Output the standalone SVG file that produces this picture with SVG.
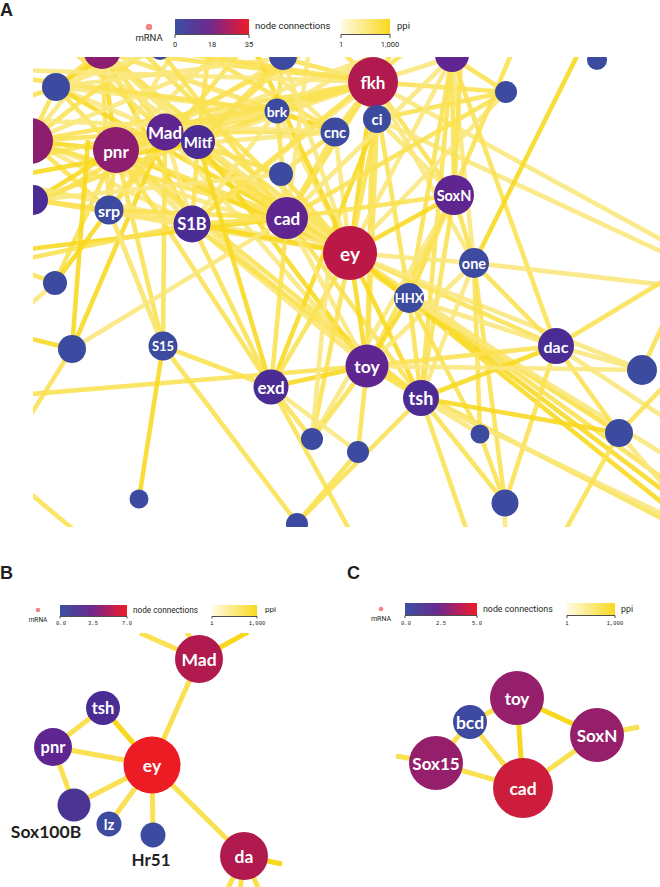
<svg xmlns="http://www.w3.org/2000/svg" width="660" height="887" viewBox="0 0 660 887">
  <defs>
    <linearGradient id="gNode" x1="0" y1="0" x2="1" y2="0">
      <stop offset="0" stop-color="#3a50a3"/>
      <stop offset="0.45" stop-color="#6a2b8f"/>
      <stop offset="0.75" stop-color="#b51f5c"/>
      <stop offset="1" stop-color="#ee1c25"/>
    </linearGradient>
    <linearGradient id="gPpi" x1="0" y1="0" x2="1" y2="0">
      <stop offset="0" stop-color="#fffbe3"/>
      <stop offset="1" stop-color="#f8d91c"/>
    </linearGradient>
    <clipPath id="clipA"><rect x="33" y="57" width="627" height="470"/></clipPath>
    <clipPath id="clipB"><rect x="0" y="633" width="330" height="254"/></clipPath>
    <clipPath id="clipC"><rect x="360" y="640" width="300" height="200"/></clipPath>
  </defs>
  <style>
    .lbl { font-family: "Lato", "Open Sans", sans-serif; font-weight: 700; fill: #ffffff; text-anchor: middle; dominant-baseline: central; }
    .blk { font-family: "Lato", "Open Sans", sans-serif; font-weight: 700; fill: #231f20; text-anchor: middle; }
    .leg { font-family: "Roboto", "Liberation Sans", sans-serif; fill: #231f20; }
    .tick { font-family: "Liberation Mono", monospace; fill: #231f20; text-anchor: middle; }
    .panel { font-family: "Liberation Sans", sans-serif; font-weight: 700; fill: #231f20; }
    .ax { stroke: #231f20; stroke-width: 0.8; fill: none; }
    #edgesA line { stroke-width: 4.6; stroke-linecap: butt; stroke-opacity: 0.88; }
    #edgesA line, #edgesB line, #edgesC line { stroke: #fae152; }
    #edgesA line.g, #edgesB line.g, #edgesC line.g { stroke: #f8d81f; }
    #edgesA line.p { stroke: #fbe77c; }
    #edgesB line, #edgesC line { stroke-width: 5; }
    .blue { fill: #3c4ba0; }
    .pur1 { fill: #5f2591; }
    .pur2 { fill: #4b2c95; }
    .mag { fill: #8d1e6f; }
    .crim { fill: #bb1847; }
    .red { fill: #ec1c24; }
    .rose { fill: #b01a4e; }
    .plum { fill: #961f6b; }
    .cred { fill: #cc1e3c; }
  </style>

  <!-- ===== Panel A ===== -->
  <text class="panel" x="0" y="16" font-size="18">A</text>
  <g id="legendA">
    <circle cx="149" cy="27" r="3.2" fill="#f08585"/>
    <text class="leg" x="149" y="41" font-size="9.5" text-anchor="middle">mRNA</text>
    <rect x="175" y="19" width="74" height="15" fill="url(#gNode)"/>
    <path class="ax" d="M175,38 V34.5 H249 V38"/>
    <text class="leg" x="175" y="47" font-size="7.5" text-anchor="middle">0</text>
    <text class="leg" x="212" y="47" font-size="7.5" text-anchor="middle">18</text>
    <text class="leg" x="249" y="47" font-size="7.5" text-anchor="middle">35</text>
    <text class="leg" x="255" y="29" font-size="9.5">node connections</text>
    <rect x="341" y="19" width="49" height="15" fill="url(#gPpi)"/>
    <path class="ax" d="M341,38 V34.5 H390 V38"/>
    <text class="leg" x="341" y="47" font-size="7.5" text-anchor="middle">1</text>
    <text class="leg" x="390" y="47" font-size="7.5" text-anchor="middle">1,000</text>
    <text class="leg" x="397" y="29" font-size="9.5">ppi</text>
  </g>

  <g clip-path="url(#clipA)">
    <g id="edgesA">
      <!-- dense core, upper left -->
      <line x1="102" y1="50" x2="56" y2="87"/>
      <line x1="102" y1="50" x2="116" y2="150" class="g"/>
      <line x1="102" y1="50" x2="165" y2="132"/>
      <line x1="102" y1="50" x2="198" y2="142" class="p"/>
      <line x1="102" y1="50" x2="277" y2="111"/>
      <line x1="102" y1="50" x2="287" y2="218" class="p"/>
      <line x1="102" y1="50" x2="350" y2="253"/>
      <line x1="102" y1="50" x2="192" y2="224" class="g"/>
      <line x1="102" y1="50" x2="109" y2="210"/>
      <line x1="102" y1="50" x2="30" y2="141" class="p"/>
      <line x1="102" y1="50" x2="373" y2="82"/>
      <line x1="102" y1="50" x2="335" y2="132" class="p"/>
      <line x1="56" y1="87" x2="116" y2="150"/>
      <line x1="56" y1="87" x2="165" y2="132" class="p"/>
      <line x1="56" y1="87" x2="30" y2="141"/>
      <line x1="56" y1="87" x2="277" y2="111" class="p"/>
      <line x1="20" y1="100" x2="56" y2="87"/>
      <line x1="56" y1="87" x2="350" y2="253" class="g"/>
      <line x1="30" y1="141" x2="116" y2="150" class="g"/>
      <line x1="30" y1="141" x2="165" y2="132"/>
      <line x1="30" y1="141" x2="109" y2="210"/>
      <line x1="30" y1="141" x2="350" y2="253" class="p"/>
      <line x1="30" y1="141" x2="287" y2="218"/>
      <line x1="30" y1="141" x2="192" y2="224" class="p"/>
      <line x1="30" y1="141" x2="373" y2="82"/>
      <line x1="30" y1="141" x2="160" y2="40"/>
      <line x1="116" y1="150" x2="165" y2="132"/>
      <line x1="116" y1="150" x2="198" y2="142" class="p"/>
      <line x1="116" y1="150" x2="277" y2="111"/>
      <line x1="116" y1="150" x2="335" y2="132" class="p"/>
      <line x1="116" y1="150" x2="373" y2="82"/>
      <line x1="116" y1="150" x2="350" y2="253" class="g"/>
      <line x1="116" y1="150" x2="287" y2="218"/>
      <line x1="116" y1="150" x2="192" y2="224" class="p"/>
      <line x1="116" y1="150" x2="109" y2="210"/>
      <line x1="116" y1="150" x2="35" y2="200" class="g"/>
      <line x1="116" y1="150" x2="55" y2="283"/>
      <line x1="116" y1="150" x2="271" y2="387"/>
      <line x1="116" y1="150" x2="163" y2="346"/>
      <line x1="116" y1="150" x2="367" y2="366" class="p"/>
      <line x1="116" y1="150" x2="421" y2="398"/>
      <line x1="116" y1="150" x2="230" y2="40" class="p"/>
      <line x1="165" y1="132" x2="198" y2="142"/>
      <line x1="165" y1="132" x2="277" y2="111" class="p"/>
      <line x1="165" y1="132" x2="373" y2="82"/>
      <line x1="165" y1="132" x2="350" y2="253" class="g"/>
      <line x1="165" y1="132" x2="287" y2="218"/>
      <line x1="165" y1="132" x2="192" y2="224" class="p"/>
      <line x1="165" y1="132" x2="109" y2="210"/>
      <line x1="165" y1="132" x2="163" y2="346"/>
      <line x1="165" y1="132" x2="367" y2="366" class="p"/>
      <line x1="165" y1="132" x2="335" y2="132"/>
      <line x1="165" y1="132" x2="283" y2="58" class="p"/>
      <line x1="165" y1="132" x2="72" y2="349" class="g"/>
      <line x1="198" y1="142" x2="350" y2="253"/>
      <line x1="198" y1="142" x2="373" y2="82" class="p"/>
      <line x1="198" y1="142" x2="287" y2="218"/>
      <line x1="198" y1="142" x2="192" y2="224"/>
      <line x1="198" y1="142" x2="367" y2="366" class="g"/>
      <line x1="198" y1="142" x2="277" y2="111" class="p"/>
      <line x1="198" y1="142" x2="210" y2="40"/>
      <line x1="277" y1="111" x2="373" y2="82"/>
      <line x1="277" y1="111" x2="350" y2="253" class="p"/>
      <line x1="277" y1="111" x2="287" y2="218"/>
      <line x1="277" y1="111" x2="335" y2="132" class="g"/>
      <line x1="277" y1="111" x2="283" y2="58"/>
      <line x1="277" y1="111" x2="192" y2="224" class="p"/>
      <line x1="277" y1="111" x2="35" y2="200"/>
      <line x1="335" y1="132" x2="373" y2="82"/>
      <line x1="335" y1="132" x2="350" y2="253" class="p"/>
      <line x1="335" y1="132" x2="287" y2="218"/>
      <line x1="335" y1="132" x2="281" y2="174"/>
      <line x1="335" y1="132" x2="240" y2="40" class="p"/>
      <line x1="373" y1="82" x2="350" y2="253" class="g"/>
      <line x1="373" y1="82" x2="377" y2="119"/>
      <line x1="373" y1="82" x2="287" y2="218" class="p"/>
      <line x1="373" y1="82" x2="454" y2="195"/>
      <line x1="373" y1="82" x2="367" y2="366"/>
      <line x1="373" y1="82" x2="192" y2="224" class="p"/>
      <line x1="373" y1="82" x2="283" y2="58"/>
      <line x1="373" y1="82" x2="452" y2="57" class="p"/>
      <line x1="373" y1="82" x2="506" y2="92"/>
      <line x1="373" y1="82" x2="474" y2="263" class="p"/>
      <line x1="373" y1="82" x2="409" y2="298"/>
      <line x1="373" y1="82" x2="662" y2="240" class="p"/>
      <line x1="373" y1="82" x2="330" y2="40"/>
      <line x1="377" y1="119" x2="350" y2="253"/>
      <line x1="377" y1="119" x2="454" y2="195" class="p"/>
      <line x1="377" y1="119" x2="367" y2="366"/>
      <line x1="377" y1="119" x2="662" y2="252" class="p"/>
      <line x1="377" y1="119" x2="506" y2="92"/>
      <line x1="377" y1="119" x2="271" y2="387" class="g"/>
      <!-- extra strands entering from the top and left edges -->
      <line x1="60" y1="40" x2="165" y2="132"/>
      <line x1="60" y1="40" x2="350" y2="253" class="p"/>
      <line x1="130" y1="40" x2="350" y2="253"/>
      <line x1="130" y1="40" x2="56" y2="87" class="g"/>
      <line x1="180" y1="40" x2="335" y2="132"/>
      <line x1="180" y1="40" x2="116" y2="150" class="p"/>
      <line x1="250" y1="40" x2="350" y2="253" class="g"/>
      <line x1="250" y1="40" x2="109" y2="210"/>
      <line x1="270" y1="40" x2="30" y2="141" class="p"/>
      <line x1="310" y1="40" x2="198" y2="142"/>
      <line x1="310" y1="40" x2="287" y2="218" class="p"/>
      <line x1="330" y1="40" x2="116" y2="150"/>
      <line x1="400" y1="40" x2="287" y2="218"/>
      <line x1="400" y1="40" x2="277" y2="111" class="p"/>
      <line x1="420" y1="40" x2="192" y2="224"/>
      <line x1="420" y1="40" x2="165" y2="132" class="p"/>
      <line x1="20" y1="70" x2="373" y2="82" class="p"/>
      <line x1="20" y1="78" x2="277" y2="111"/>
      <line x1="20" y1="120" x2="335" y2="132" class="p"/>
      <line x1="20" y1="160" x2="373" y2="82"/>
      <line x1="20" y1="175" x2="198" y2="142" class="g"/>
      <line x1="20" y1="185" x2="350" y2="253" class="p"/>
      <line x1="20" y1="215" x2="165" y2="132"/>
      <line x1="283" y1="58" x2="350" y2="253" class="p"/>
      <line x1="283" y1="58" x2="198" y2="142"/>
      <line x1="283" y1="58" x2="56" y2="87" class="p"/>
      <line x1="160" y1="50" x2="287" y2="218"/>
      <line x1="160" y1="50" x2="56" y2="87" class="p"/>
      <line x1="160" y1="50" x2="373" y2="82"/>
      <line x1="452" y1="57" x2="454" y2="195"/>
      <line x1="452" y1="57" x2="350" y2="253" class="p"/>
      <line x1="452" y1="57" x2="556" y2="346"/>
      <line x1="452" y1="57" x2="474" y2="263" class="p"/>
      <line x1="452" y1="57" x2="506" y2="92"/>
      <line x1="452" y1="57" x2="421" y2="398"/>
      <line x1="452" y1="57" x2="287" y2="218" class="p"/>
      <line x1="452" y1="57" x2="409" y2="298"/>
      <line x1="506" y1="92" x2="350" y2="253" class="p"/>
      <line x1="506" y1="92" x2="287" y2="218"/>
      <line x1="281" y1="174" x2="350" y2="253"/>
      <line x1="281" y1="174" x2="287" y2="218" class="p"/>
      <line x1="281" y1="174" x2="165" y2="132"/>
      <line x1="281" y1="174" x2="35" y2="200" class="p"/>
      <line x1="35" y1="200" x2="109" y2="210"/>
      <line x1="35" y1="200" x2="350" y2="253" class="p"/>
      <line x1="35" y1="200" x2="192" y2="224"/>
      <line x1="20" y1="232" x2="35" y2="200"/>
      <line x1="20" y1="250" x2="287" y2="218" class="g"/>
      <line x1="20" y1="260" x2="192" y2="224"/>
      <line x1="109" y1="210" x2="192" y2="224"/>
      <line x1="109" y1="210" x2="350" y2="253" class="p"/>
      <line x1="109" y1="210" x2="287" y2="218"/>
      <line x1="109" y1="210" x2="55" y2="283" class="g"/>
      <line x1="109" y1="210" x2="163" y2="346"/>
      <line x1="192" y1="224" x2="287" y2="218"/>
      <line x1="192" y1="224" x2="350" y2="253" class="g"/>
      <line x1="192" y1="224" x2="367" y2="366" class="p"/>
      <line x1="192" y1="224" x2="271" y2="387"/>
      <line x1="192" y1="224" x2="421" y2="398"/>
      <line x1="287" y1="218" x2="350" y2="253"/>
      <line x1="287" y1="218" x2="367" y2="366" class="p"/>
      <line x1="287" y1="218" x2="271" y2="387"/>
      <line x1="287" y1="218" x2="72" y2="349" class="p"/>
      <line x1="287" y1="218" x2="454" y2="195"/>
      <line x1="287" y1="218" x2="409" y2="298" class="p"/>
      <line x1="287" y1="218" x2="421" y2="398"/>
      <line x1="454" y1="195" x2="350" y2="253" class="g"/>
      <line x1="454" y1="195" x2="474" y2="263"/>
      <line x1="454" y1="195" x2="367" y2="366"/>
      <line x1="454" y1="195" x2="409" y2="298" class="p"/>
      <line x1="454" y1="195" x2="421" y2="398"/>
      <line x1="454" y1="195" x2="462" y2="40"/>
      <line x1="454" y1="195" x2="312" y2="439" class="p"/>
      <!-- ey hub and lower middle -->
      <line x1="350" y1="253" x2="367" y2="366" class="g"/>
      <line x1="350" y1="253" x2="409" y2="298"/>
      <line x1="350" y1="253" x2="421" y2="398" class="g"/>
      <line x1="350" y1="253" x2="271" y2="387"/>
      <line x1="350" y1="253" x2="474" y2="263" class="p"/>
      <line x1="350" y1="253" x2="556" y2="346"/>
      <line x1="350" y1="253" x2="312" y2="439"/>
      <line x1="350" y1="253" x2="619" y2="433" class="p"/>
      <line x1="350" y1="253" x2="665" y2="480"/>
      <line x1="350" y1="253" x2="665" y2="505" class="g"/>
      <line x1="350" y1="253" x2="642" y2="370" class="p"/>
      <line x1="474" y1="263" x2="556" y2="346"/>
      <line x1="474" y1="263" x2="421" y2="398" class="p"/>
      <line x1="474" y1="263" x2="505" y2="503"/>
      <line x1="474" y1="263" x2="580" y2="50" class="g"/>
      <line x1="474" y1="263" x2="665" y2="285" class="p"/>
      <line x1="474" y1="263" x2="480" y2="434"/>
      <line x1="474" y1="263" x2="367" y2="366" class="p"/>
      <line x1="409" y1="298" x2="367" y2="366" class="g"/>
      <line x1="409" y1="298" x2="421" y2="398"/>
      <line x1="409" y1="298" x2="556" y2="346" class="p"/>
      <line x1="409" y1="298" x2="480" y2="434"/>
      <line x1="409" y1="298" x2="515" y2="45"/>
      <line x1="409" y1="298" x2="665" y2="492" class="g"/>
      <line x1="409" y1="298" x2="619" y2="433"/>
      <line x1="409" y1="298" x2="665" y2="455" class="p"/>
      <line x1="556" y1="346" x2="367" y2="366"/>
      <line x1="556" y1="346" x2="642" y2="370" class="p"/>
      <line x1="556" y1="346" x2="665" y2="280"/>
      <line x1="556" y1="346" x2="505" y2="503"/>
      <line x1="556" y1="346" x2="421" y2="398" class="g"/>
      <line x1="556" y1="346" x2="619" y2="433"/>
      <line x1="556" y1="346" x2="665" y2="418" class="p"/>
      <line x1="367" y1="366" x2="421" y2="398"/>
      <line x1="367" y1="366" x2="358" y2="452"/>
      <line x1="367" y1="366" x2="642" y2="370" class="p"/>
      <line x1="367" y1="366" x2="20" y2="395"/>
      <line x1="367" y1="366" x2="271" y2="387" class="g"/>
      <line x1="367" y1="366" x2="312" y2="439"/>
      <line x1="367" y1="366" x2="665" y2="520"/>
      <line x1="421" y1="398" x2="480" y2="434" class="p"/>
      <line x1="421" y1="398" x2="505" y2="503"/>
      <line x1="421" y1="398" x2="619" y2="433" class="g"/>
      <line x1="421" y1="398" x2="470" y2="540"/>
      <line x1="421" y1="398" x2="665" y2="515" class="p"/>
      <line x1="421" y1="398" x2="297" y2="523"/>
      <line x1="619" y1="433" x2="665" y2="385"/>
      <line x1="619" y1="433" x2="665" y2="487" class="p"/>
      <line x1="642" y1="370" x2="665" y2="320"/>
      <line x1="619" y1="433" x2="560" y2="540"/>
      <line x1="480" y1="434" x2="505" y2="503"/>
      <line x1="505" y1="503" x2="505" y2="540" class="p"/>
      <!-- lower left -->
      <line x1="55" y1="283" x2="20" y2="270"/>
      <line x1="55" y1="283" x2="20" y2="313" class="p"/>
      <line x1="72" y1="349" x2="20" y2="336" class="g"/>
      <line x1="72" y1="349" x2="20" y2="432"/>
      <line x1="72" y1="349" x2="88" y2="140" class="g"/>
      <line x1="163" y1="346" x2="139" y2="499" class="g"/>
      <line x1="163" y1="346" x2="271" y2="387"/>
      <line x1="163" y1="346" x2="297" y2="523"/>
      <line x1="163" y1="346" x2="109" y2="210" class="p"/>
      <line x1="271" y1="387" x2="312" y2="439"/>
      <line x1="271" y1="387" x2="358" y2="452" class="p"/>
      <line x1="271" y1="387" x2="355" y2="540"/>
      <line x1="271" y1="387" x2="198" y2="142" class="g"/>
      <line x1="358" y1="452" x2="297" y2="523"/>
      <line x1="20" y1="485" x2="80" y2="535"/>
      <line x1="312" y1="439" x2="330" y2="250" class="p"/>
    </g>
    <g id="nodesA">
      <g id="a-top1"><circle class="mag" cx="102" cy="50" r="19"/></g>
      <g id="a-top2"><circle class="blue" cx="160" cy="50" r="10"/></g>
      <g id="a-top3"><circle class="blue" cx="283" cy="56" r="14"/></g>
      <g id="a-top4"><circle class="pur1" cx="452" cy="55" r="17"/></g>
      <g id="a-top5"><circle class="blue" cx="597" cy="60" r="10"/></g>
      <g id="a-n1"><circle class="blue" cx="56" cy="87" r="14"/></g>
      <g id="a-n2"><circle class="mag" cx="30" cy="141" r="23"/></g>
      <g id="a-n3"><circle class="pur2" cx="33" cy="200" r="15"/></g>
      <g id="a-pnr"><circle class="mag" cx="116" cy="150" r="23"/><text class="lbl" x="116" y="151" font-size="17">pnr</text></g>
      <g id="a-Mad"><circle class="pur1" cx="165" cy="132" r="18.5"/><text class="lbl" x="165" y="132" font-size="17">Mad</text></g>
      <g id="a-Mitf"><circle class="pur2" cx="198" cy="142" r="17"/><text class="lbl" x="198" y="142" font-size="15">Mitf</text></g>
      <g id="a-brk"><circle class="blue" cx="277" cy="111" r="12.5"/><text class="lbl" x="277" y="111" font-size="14">brk</text></g>
      <g id="a-cnc"><circle class="blue" cx="335" cy="132" r="14.5"/><text class="lbl" x="335" y="132" font-size="14.5">cnc</text></g>
      <g id="a-fkh"><circle class="rose" cx="373" cy="82" r="25"/><text class="lbl" x="373" y="82" font-size="17">fkh</text></g>
      <g id="a-ci"><circle class="blue" cx="377" cy="119" r="14"/><text class="lbl" x="377" y="119" font-size="15">ci</text></g>
      <g id="a-n4"><circle class="blue" cx="506" cy="92" r="11"/></g>
      <g id="a-n5"><circle class="blue" cx="281" cy="174" r="12"/></g>
      <g id="a-srp"><circle class="blue" cx="109" cy="210" r="14.5"/><text class="lbl" x="109" y="210" font-size="16">srp</text></g>
      <g id="a-S1B"><circle class="pur2" cx="192" cy="224" r="18.5"/><text class="lbl" x="192" y="224" font-size="16.5">S1B</text></g>
      <g id="a-cad"><circle class="pur1" cx="287" cy="218" r="21"/><text class="lbl" x="287" y="218" font-size="17">cad</text></g>
      <g id="a-SoxN"><circle class="pur1" cx="454" cy="195" r="20"/><text class="lbl" x="454" y="195" font-size="14.5">SoxN</text></g>
      <g id="a-ey"><circle class="crim" cx="350" cy="253" r="27"/><text class="lbl" x="350" y="253" font-size="19">ey</text></g>
      <g id="a-one"><circle class="blue" cx="474" cy="263" r="15"/><text class="lbl" x="474" y="263" font-size="14.5">one</text></g>
      <g id="a-HHX"><circle class="blue" cx="409" cy="298" r="15"/><text class="lbl" x="409" y="298" font-size="13">HHX</text></g>
      <g id="a-n6"><circle class="blue" cx="55" cy="283" r="12"/></g>
      <g id="a-n7"><circle class="blue" cx="72" cy="349" r="14"/></g>
      <g id="a-S15"><circle class="blue" cx="163" cy="346" r="14.5"/><text class="lbl" x="163" y="346" font-size="13">S15</text></g>
      <g id="a-toy"><circle class="pur1" cx="367" cy="366" r="21.5"/><text class="lbl" x="367" y="366" font-size="17.5">toy</text></g>
      <g id="a-dac"><circle class="pur2" cx="556" cy="346" r="18"/><text class="lbl" x="556" y="346" font-size="16">dac</text></g>
      <g id="a-n8"><circle class="blue" cx="642" cy="370" r="15"/></g>
      <g id="a-exd"><circle class="pur2" cx="271" cy="387" r="17.5"/><text class="lbl" x="271" y="387" font-size="17">exd</text></g>
      <g id="a-tsh"><circle class="pur2" cx="421" cy="398" r="18"/><text class="lbl" x="421" y="398" font-size="18">tsh</text></g>
      <g id="a-n9"><circle class="blue" cx="312" cy="439" r="11"/></g>
      <g id="a-n10"><circle class="blue" cx="480" cy="434" r="9.5"/></g>
      <g id="a-n11"><circle class="blue" cx="619" cy="433" r="14"/></g>
      <g id="a-n12"><circle class="blue" cx="358" cy="452" r="11"/></g>
      <g id="a-n13"><circle class="blue" cx="505" cy="503" r="13.5"/></g>
      <g id="a-n14"><circle class="blue" cx="139" cy="499" r="9.5"/></g>
      <g id="a-n15"><circle class="blue" cx="297" cy="524" r="11"/></g>
    </g>
  </g>

  <!-- ===== Panel B ===== -->
  <text class="panel" x="0" y="579" font-size="18">B</text>
  <g id="legendB">
    <circle cx="38" cy="610" r="2.3" fill="#f08585"/>
    <text class="leg" x="38" y="622" font-size="6.5" text-anchor="middle">mRNA</text>
    <rect x="60" y="605" width="67" height="11" fill="url(#gNode)"/>
    <path class="ax" d="M60,618.5 V616.5 H127 V618.5"/>
    <text class="tick" x="61" y="625" font-size="5.5">0.0</text>
    <text class="tick" x="93" y="625" font-size="5.5">3.5</text>
    <text class="tick" x="127" y="625" font-size="5.5">7.0</text>
    <text class="leg" x="133" y="613" font-size="8.2">node connections</text>
    <rect x="212" y="605" width="45" height="11" fill="url(#gPpi)"/>
    <path class="ax" d="M212,618.5 V616.5 H257 V618.5"/>
    <text class="tick" x="212" y="625" font-size="5.5">1</text>
    <text class="tick" x="257" y="625" font-size="5.5">1,000</text>
    <text class="leg" x="265" y="612" font-size="8">ppi</text>
  </g>
  <g clip-path="url(#clipB)">
    <g id="edgesB">
      <line x1="140" y1="633" x2="199" y2="659"/>
      <line x1="248" y1="632" x2="199" y2="659" class="g"/>
      <line x1="187" y1="632" x2="194" y2="645"/>
      <line x1="199" y1="659" x2="152" y2="765"/>
      <line x1="103" y1="708" x2="53" y2="747"/>
      <line x1="103" y1="708" x2="152" y2="765" class="g"/>
      <line x1="53" y1="747" x2="152" y2="765"/>
      <line x1="53" y1="747" x2="74" y2="805"/>
      <line x1="74" y1="805" x2="152" y2="765"/>
      <line x1="109" y1="824" x2="152" y2="765"/>
      <line x1="153" y1="835" x2="152" y2="765"/>
      <line x1="152" y1="765" x2="244" y2="856"/>
      <line x1="244" y1="856" x2="282" y2="864" class="g"/>
      <line x1="244" y1="856" x2="226" y2="892"/>
      <line x1="244" y1="856" x2="240" y2="892"/>
      <line x1="244" y1="856" x2="260" y2="892"/>
    </g>
  </g>
  <g id="nodesB">
    <g id="b-Mad"><circle class="rose" cx="199" cy="659" r="24"/><text class="lbl" x="199" y="659" font-size="17.5">Mad</text></g>
    <g id="b-tsh"><circle class="pur2" cx="103" cy="708" r="17"/><text class="lbl" x="103" y="708" font-size="16.5">tsh</text></g>
    <g id="b-pnr"><circle class="pur1" cx="53" cy="747" r="19"/><text class="lbl" x="53" y="747" font-size="16.5">pnr</text></g>
    <g id="b-ey"><circle class="red" cx="152" cy="765" r="28.5"/><text class="lbl" x="152" y="765" font-size="17.5">ey</text></g>
    <g id="b-Sox100B"><circle fill="#4a3593" cx="74" cy="805" r="16.5"/><text class="blk" x="46" y="838" font-size="17.5">Sox100B</text></g>
    <g id="b-lz"><circle class="blue" cx="109" cy="824" r="12.5"/><text class="lbl" x="109" y="824" font-size="15">lz</text></g>
    <g id="b-Hr51"><circle class="blue" cx="153" cy="835" r="12.5"/><text class="blk" x="151" y="866" font-size="17">Hr51</text></g>
    <g id="b-da"><circle class="rose" cx="244" cy="856" r="24"/><text class="lbl" x="244" y="856" font-size="17.5">da</text></g>
  </g>

  <!-- ===== Panel C ===== -->
  <text class="panel" x="347" y="579" font-size="18">C</text>
  <g id="legendC">
    <circle cx="381" cy="609" r="2.3" fill="#f08585"/>
    <text class="leg" x="381" y="621" font-size="7" text-anchor="middle">mRNA</text>
    <rect x="405" y="603" width="72" height="12" fill="url(#gNode)"/>
    <path class="ax" d="M405,618 V615.5 H477 V618"/>
    <text class="tick" x="406" y="625" font-size="5.5">0.0</text>
    <text class="tick" x="441" y="625" font-size="5.5">2.5</text>
    <text class="tick" x="477" y="625" font-size="5.5">5.0</text>
    <text class="leg" x="483" y="612" font-size="8.8">node connections</text>
    <rect x="567" y="603" width="48" height="12" fill="url(#gPpi)"/>
    <path class="ax" d="M567,618 V615.5 H615 V618"/>
    <text class="tick" x="567" y="625" font-size="5.5">1</text>
    <text class="tick" x="615" y="625" font-size="5.5">1,000</text>
    <text class="leg" x="621" y="612" font-size="8.8">ppi</text>
  </g>
  <g clip-path="url(#clipC)">
    <g id="edgesC">
      <line x1="396" y1="756" x2="436" y2="763"/>
      <line x1="436" y1="763" x2="470" y2="722"/>
      <line x1="436" y1="763" x2="523" y2="788"/>
      <line x1="470" y1="722" x2="517" y2="698"/>
      <line x1="470" y1="722" x2="523" y2="788"/>
      <line x1="517" y1="698" x2="523" y2="788" class="g"/>
      <line x1="517" y1="698" x2="597" y2="735" class="g"/>
      <line x1="597" y1="735" x2="523" y2="788"/>
      <line x1="597" y1="735" x2="639" y2="727"/>
    </g>
  </g>
  <g id="nodesC">
    <g id="c-toy"><circle class="plum" cx="517" cy="698" r="27"/><text class="lbl" x="517" y="698" font-size="17">toy</text></g>
    <g id="c-bcd"><circle fill="#3e49a0" cx="470" cy="722" r="17"/><text class="lbl" x="470" y="722" font-size="17.5">bcd</text></g>
    <g id="c-SoxN"><circle class="plum" cx="597" cy="735" r="27"/><text class="lbl" x="597" y="735" font-size="17">SoxN</text></g>
    <g id="c-Sox15"><circle class="plum" cx="436" cy="763" r="27"/><text class="lbl" x="436" y="763" font-size="17">Sox15</text></g>
    <g id="c-cad"><circle class="cred" cx="523" cy="788" r="30"/><text class="lbl" x="523" y="788" font-size="17.5">cad</text></g>
  </g>
</svg>
